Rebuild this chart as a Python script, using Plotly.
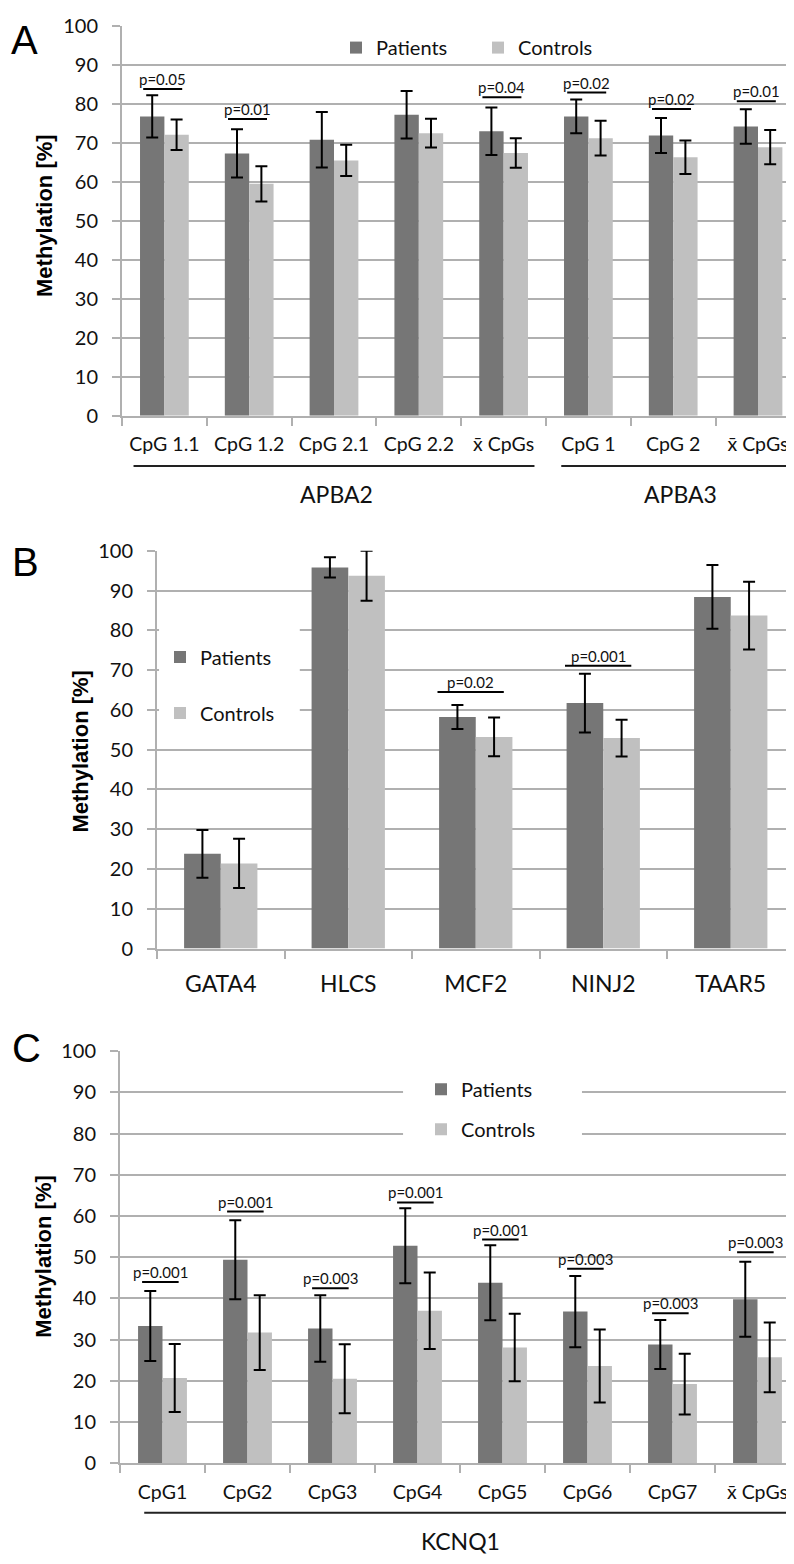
import plotly.graph_objects as go

# ---------------- data ----------------
series_names = ["Patients", "Controls"]

# Panel A
a_ids = ["APBA2 CpG 1.1", "APBA2 CpG 1.2", "APBA2 CpG 2.1", "APBA2 CpG 2.2", "APBA2 mean",
         "APBA3 CpG 1", "APBA3 CpG 2", "APBA3 mean"]
a_labels = ["CpG 1.1", "CpG 1.2", "CpG 2.1", "CpG 2.2", "x\u0304 CpGs", "CpG 1", "CpG 2", "x\u0304 CpGs"]
a_pat = [76.8, 67.3, 70.8, 77.2, 73.0, 76.8, 71.9, 74.2]
a_pat_err = [5.4, 6.2, 7.1, 6.1, 6.1, 4.3, 4.5, 4.4]
a_con = [72.1, 59.5, 65.5, 72.5, 67.4, 71.2, 66.3, 68.9]
a_con_err = [3.9, 4.5, 4.0, 3.7, 3.8, 4.45, 4.3, 4.4]
a_ptext = ["p=0.05", "p=0.01", None, None, "p=0.04", "p=0.02", "p=0.02", "p=0.01"]
a_pline = [83.8, 76.1, None, None, 81.7, 82.9, 78.7, 80.7]
a_groups = ["APBA2", "APBA3"]

# Panel B
b_labels = ["GATA4", "HLCS", "MCF2", "NINJ2", "TAAR5"]
b_pat = [23.8, 95.8, 58.2, 61.7, 88.4]
b_pat_err = [6.0, 2.55, 3.0, 7.4, 8.0]
b_con = [21.4, 93.7, 53.2, 52.9, 83.7]
b_con_err = [6.2, 6.3, 4.85, 4.6, 8.5]
b_ptext = [None, None, "p=0.02", "p=0.001", None]
b_pline = [None, None, 64.5, 71.1, None]

# Panel C
c_ids = ["CpG1", "CpG2", "CpG3", "CpG4", "CpG5", "CpG6", "CpG7", "mean"]
c_labels = ["CpG1", "CpG2", "CpG3", "CpG4", "CpG5", "CpG6", "CpG7", "x\u0304 CpGs"]
c_pat = [33.3, 49.4, 32.7, 52.8, 43.8, 36.8, 28.8, 39.8]
c_pat_err = [8.5, 9.6, 8.05, 9.1, 9.1, 8.65, 5.95, 9.1]
c_con = [20.7, 31.7, 20.5, 37.0, 28.1, 23.6, 19.2, 25.7]
c_con_err = [8.25, 9.05, 8.4, 9.3, 8.2, 8.85, 7.4, 8.45]
c_ptext = ["p=0.001", "p=0.001", "p=0.003", "p=0.001", "p=0.001", "p=0.003", "p=0.003", "p=0.003"]
c_pline = [44.0, 61.1, 42.5, 63.3, 54.3, 47.2, 36.4, 51.2]
c_group = "KCNQ1"

y_ticks = [0, 10, 20, 30, 40, 50, 60, 70, 80, 90, 100]

# ---------------- style ----------------
W, H = 794, 1564
OFF = 8  # default page body margin of the written html
PAT = "#767676"
CON = "#c0c0c0"
GRID = "#b0b0b0"
TXT = "#111111"
FONT = "Lato"


def py(p):
    return 1 - (p - OFF) / H


def px(p):
    return (p - OFF) / W


RIGHT = W + OFF  # page x of the figure's right edge

fig = go.Figure()

panels = [
    dict(ids=a_ids, pat=a_pat, pe=a_pat_err, con=a_con, ce=a_con_err, xa="x", ya="y", lg="legend"),
    dict(ids=b_labels, pat=b_pat, pe=b_pat_err, con=b_con, ce=b_con_err, xa="x2", ya="y2", lg="legend2"),
    dict(ids=c_ids, pat=c_pat, pe=c_pat_err, con=c_con, ce=c_con_err, xa="x3", ya="y3", lg="legend3"),
]

for k, p in enumerate(panels):
    for name, vals, errs, col in [(series_names[0], p["pat"], p["pe"], PAT),
                                  (series_names[1], p["con"], p["ce"], CON)]:
        fig.add_trace(go.Bar(
            x=p["ids"], y=vals, name=name, marker=dict(color=col, line=dict(width=0)),
            error_y=dict(type="data", array=errs, color="black", thickness=2, width=6),
            xaxis=p["xa"], yaxis=p["ya"], legend=p["lg"],
            legendgroup=f"{name}{k}",
        ))

shapes = []
annotations = []


def add_pvals(ptext, pline, xref, yref, x0off, x1off, font_size):
    for i, (t, v) in enumerate(zip(ptext, pline)):
        if t is None:
            continue
        shapes.append(dict(type="line", xref=xref, yref=yref, x0=i + x0off, x1=i + x1off,
                           y0=v, y1=v, line=dict(color="black", width=2)))
        annotations.append(dict(xref=xref, yref=yref, x=i + (x0off + x1off) / 2, y=v,
                                text=t, showarrow=False, yanchor="bottom", yshift=-1,
                                font=dict(family=FONT, size=font_size, color=TXT)))


add_pvals(a_ptext, a_pline, "x", "y", -0.25, 0.21, 15)
add_pvals(b_ptext, b_pline, "x2", "y2", -0.30, 0.22, 15)
add_pvals(c_ptext, c_pline, "x3", "y3", -0.24, 0.19, 15)

# group underlines and labels
shapes.append(dict(type="line", xref="x", yref="paper", x0=-0.364, x1=4.364,
                   y0=py(460), y1=py(460), line=dict(color="#222222", width=2)))
shapes.append(dict(type="line", xref="x", yref="paper", x0=4.68, x1=7.37,
                   y0=py(460), y1=py(460), line=dict(color="#222222", width=2)))
annotations.append(dict(xref="x", yref="paper", x=2.03, y=py(488), text=a_groups[0],
                        showarrow=False, xanchor="center", yanchor="middle",
                        font=dict(family=FONT, size=23, color=TXT)))
annotations.append(dict(xref="x", yref="paper", x=6.09, y=py(488), text=a_groups[1],
                        showarrow=False, xanchor="center", yanchor="middle",
                        font=dict(family=FONT, size=23, color=TXT)))
shapes.append(dict(type="line", xref="x3", yref="paper", x0=-0.215, x1=7.38,
                   y0=py(1523), y1=py(1523), line=dict(color="#222222", width=2)))
annotations.append(dict(xref="x3", yref="paper", x=3.51, y=py(1552), text=c_group,
                        showarrow=False, xanchor="center", yanchor="middle",
                        font=dict(family=FONT, size=23, color=TXT)))

# white boxes behind legends (hide gridlines)
shapes.append(dict(type="rect", xref="x2", yref="y2", x0=-0.484, x1=0.62, y0=52.5, y1=82.0,
                   fillcolor="white", line=dict(width=0), layer="between"))
shapes.append(dict(type="rect", xref="x3", yref="y3", x0=2.83, x1=4.935, y0=75.0, y1=95.0,
                   fillcolor="white", line=dict(width=0), layer="between"))

# panel letters
for letter, (lx, ly) in zip(["A", "B", "C"], [(24.5, 27), (25, 557.5), (26, 1051)]):
    annotations.append(dict(xref="paper", yref="paper", x=px(lx), y=py(ly), text=letter,
                            showarrow=False, xanchor="center", yanchor="middle",
                            font=dict(family="Liberation Sans", size=40, color="black")))

# y titles
for (tx, ty) in [(45, 206), (81, 750), (44, 1263)]:
    annotations.append(dict(xref="paper", yref="paper", x=px(tx), y=py(ty),
                            text="<b>Methylation [%]</b>", textangle=-90, showarrow=False,
                            xanchor="center", yanchor="middle",
                            font=dict(family="Liberation Sans", size=22, color="black")))


def yaxis(dom, anchor):
    return dict(domain=dom, range=[0, 100], tickvals=y_ticks, anchor=anchor,
                showgrid=True, gridcolor=GRID, gridwidth=2, zeroline=False,
                showline=True, linecolor=GRID, linewidth=2,
                ticks="outside", ticklen=8, tickcolor=GRID, tickwidth=2,
                ticklabelstandoff=10,
                tickfont=dict(family=FONT, size=20, color=TXT), fixedrange=True)


def xaxis(dom, anchor, ids, labels, rng, fsize, standoff):
    return dict(domain=dom, anchor=anchor, type="category", range=rng,
                tickmode="array", tickvals=ids, ticktext=labels, tickson="boundaries",
                showgrid=False, zeroline=False, showline=True, linecolor=GRID, linewidth=2,
                ticks="outside", ticklen=8, tickcolor=GRID, tickwidth=2,
                ticklabelstandoff=standoff,
                tickfont=dict(family=FONT, size=fsize, color=TXT), fixedrange=True)


fig.update_layout(
    width=W, height=H,
    margin=dict(l=0, r=0, t=0, b=0),
    paper_bgcolor="white", plot_bgcolor="white",
    barmode="group", bargap=0.425, bargroupgap=0,
    font=dict(family=FONT, size=20, color=TXT),
    xaxis=xaxis([px(122), 1], "y", a_ids, a_labels, [-0.5, -0.5 + (RIGHT - 122) / 84.8], 19.5, 10),
    yaxis=yaxis([py(409), py(13)], "x"),
    xaxis2=xaxis([px(157), 1], "y2", b_labels, b_labels, [-0.5, -0.5 + (RIGHT - 157) / 127.5], 23, 14),
    yaxis2=yaxis([py(950), py(546)], "x2"),
    xaxis3=xaxis([px(120), 1], "y3", c_ids, c_labels, [-0.5, -0.5 + (RIGHT - 120) / 85.0], 19.5, 10),
    yaxis3=yaxis([py(1472.7), py(1054.3)], "x3"),
    legend=dict(orientation="h", x=px(336), y=py(35), xanchor="left", yanchor="middle",
                bgcolor="rgba(0,0,0,0)", font=dict(family=FONT, size=20, color=TXT),
                entrywidth=97, traceorder="normal"),
    legend2=dict(orientation="v", x=px(160), y=py(634), xanchor="left", yanchor="top",
                 bgcolor="rgba(0,0,0,0)", font=dict(family=FONT, size=20, color=TXT),
                 tracegroupgap=27, traceorder="grouped"),
    legend3=dict(orientation="v", x=px(421), y=py(1073), xanchor="left", yanchor="top",
                 bgcolor="rgba(0,0,0,0)", font=dict(family=FONT, size=20, color=TXT),
                 tracegroupgap=11, traceorder="grouped"),
    shapes=shapes,
    annotations=annotations,
    showlegend=True,
)

fig.write_html("out.html")
